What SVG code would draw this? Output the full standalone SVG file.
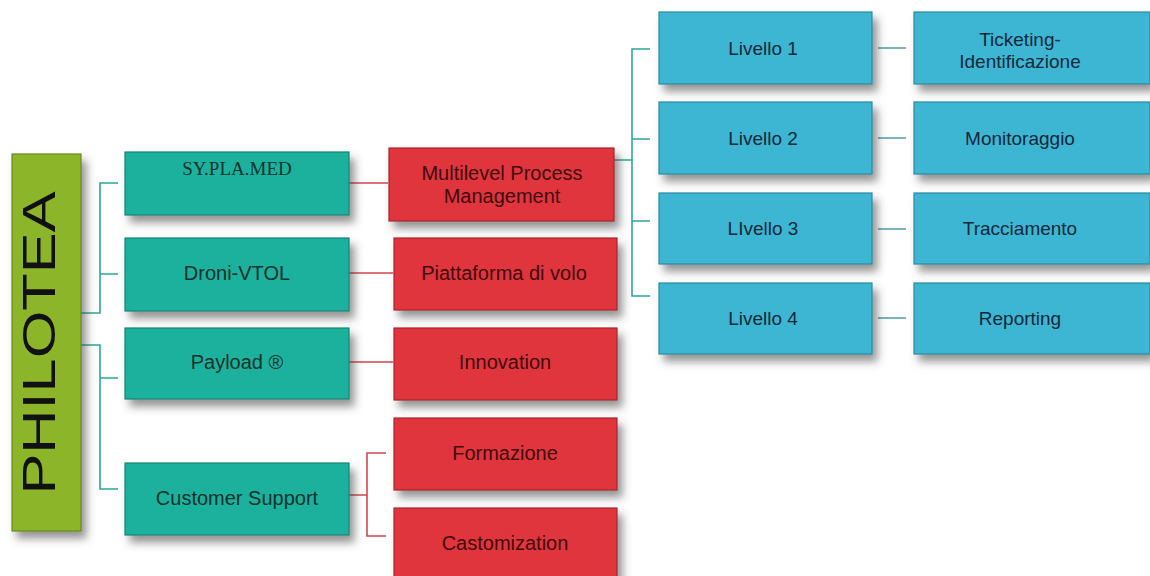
<svg xmlns="http://www.w3.org/2000/svg" width="1150" height="576" viewBox="0 0 1150 576">
<defs>
<filter id="sh" x="-20%" y="-30%" width="150%" height="180%">
<feDropShadow dx="5" dy="7" stdDeviation="4" flood-color="#404040" flood-opacity="0.55"/>
</filter>
<style>
.g{fill:#1bb19c;stroke:#138676;stroke-width:1.2;filter:url(#sh)}
.r{fill:#e0363d;stroke:#a8262c;stroke-width:1.2;filter:url(#sh)}
.b{fill:#3cb6d3;stroke:#2a8aa0;stroke-width:1.2;filter:url(#sh)}
.p{fill:#8db52a;stroke:#6a8a1c;stroke-width:1.2;filter:url(#sh)}
.t{font-family:"Liberation Sans",Arial,sans-serif;text-anchor:middle}
.tg{fill:#0f322d;font-size:20px}
.tr{fill:#420a0d;font-size:20px}
.tb{fill:#13293a;font-size:19px}
.ct{fill:none;stroke:#2aa89a;stroke-width:1.6}
.cr{fill:none;stroke:#d4454d;stroke-width:1.6}
.cb{fill:none;stroke:#4f9cad;stroke-width:1.6}
</style>
</defs>
<rect width="1150" height="576" fill="#ffffff"/>
<g id="connectors">
<path class="ct" d="M81 313H100V183H118M100 274H118"/>
<path class="ct" d="M81 345H100V489H118M100 378H118"/>
<path class="cr" d="M349 183H388"/>
<path class="cr" d="M349 273H393"/>
<path class="cr" d="M349 362H393"/>
<path class="cr" d="M349 495H367V453H386M367 495V536H386"/>
<path class="ct" d="M614 160H632V49H650M632 139H650M632 160V296H650M632 221H650"/>
<path class="cb" d="M878 48H906M878 138H906M878 229H906M878 318H906"/>
</g>
<g id="philotea">
<rect class="p" x="12" y="154" width="69" height="377"/>
<text transform="translate(55,343) rotate(-90)" x="0" y="0" font-family="Liberation Sans,Arial,sans-serif" font-size="46" text-anchor="middle" fill="#111" textLength="303" lengthAdjust="spacingAndGlyphs">PHILOTEA</text>
</g>
<g id="syplamed">
<rect class="g" x="125" y="152" width="224" height="63"/>
<text x="237" y="175" font-family="Liberation Serif,Times New Roman,serif" font-size="19" text-anchor="middle" fill="#0f322d">SY.PLA.MED</text>
</g>
<g id="droni">
<rect class="g" x="125" y="238" width="224" height="73"/>
<text class="t tg" x="237" y="280">Droni-VTOL</text>
</g>
<g id="payload">
<rect class="g" x="125" y="328" width="224" height="71"/>
<text class="t tg" x="237" y="369">Payload ®</text>
</g>
<g id="customer">
<rect class="g" x="125" y="463" width="224" height="72"/>
<text class="t tg" x="237" y="505">Customer Support</text>
</g>
<g id="multilevel">
<rect class="r" x="389" y="148" width="225" height="73"/>
<text class="t tr" x="502" y="180">Multilevel  Process</text>
<text class="t tr" x="502" y="203">Management</text>
</g>
<g id="piattaforma">
<rect class="r" x="394" y="238" width="223" height="72"/>
<text class="t tr" x="504" y="280">Piattaforma di volo</text>
</g>
<g id="innovation">
<rect class="r" x="394" y="328" width="223" height="72"/>
<text class="t tr" x="505" y="369">Innovation</text>
</g>
<g id="formazione">
<rect class="r" x="394" y="418" width="223" height="72"/>
<text class="t tr" x="505" y="460">Formazione</text>
</g>
<g id="castomization">
<rect class="r" x="394" y="508" width="223" height="72"/>
<text class="t tr" x="505" y="550">Castomization</text>
</g>
<g id="livello1">
<rect class="b" x="659" y="12" width="213" height="72"/>
<text class="t tb" x="763" y="55">Livello 1</text>
</g>
<g id="livello2">
<rect class="b" x="659" y="102" width="213" height="72"/>
<text class="t tb" x="763" y="145">Livello 2</text>
</g>
<g id="livello3">
<rect class="b" x="659" y="193" width="213" height="71"/>
<text class="t tb" x="763" y="235">LIvello 3</text>
</g>
<g id="livello4">
<rect class="b" x="659" y="283" width="213" height="71"/>
<text class="t tb" x="763" y="325">Livello 4</text>
</g>
<g id="ticketing">
<rect class="b" x="914" y="12" width="236" height="72"/>
<text class="t tb" x="1020" y="46">Ticketing-</text>
<text class="t tb" x="1020" y="68">Identificazione</text>
</g>
<g id="monitoraggio">
<rect class="b" x="914" y="102" width="236" height="72"/>
<text class="t tb" x="1020" y="145">Monitoraggio</text>
</g>
<g id="tracciamento">
<rect class="b" x="914" y="193" width="236" height="71"/>
<text class="t tb" x="1020" y="235">Tracciamento</text>
</g>
<g id="reporting">
<rect class="b" x="914" y="283" width="236" height="71"/>
<text class="t tb" x="1020" y="325">Reporting</text>
</g>
</svg>
